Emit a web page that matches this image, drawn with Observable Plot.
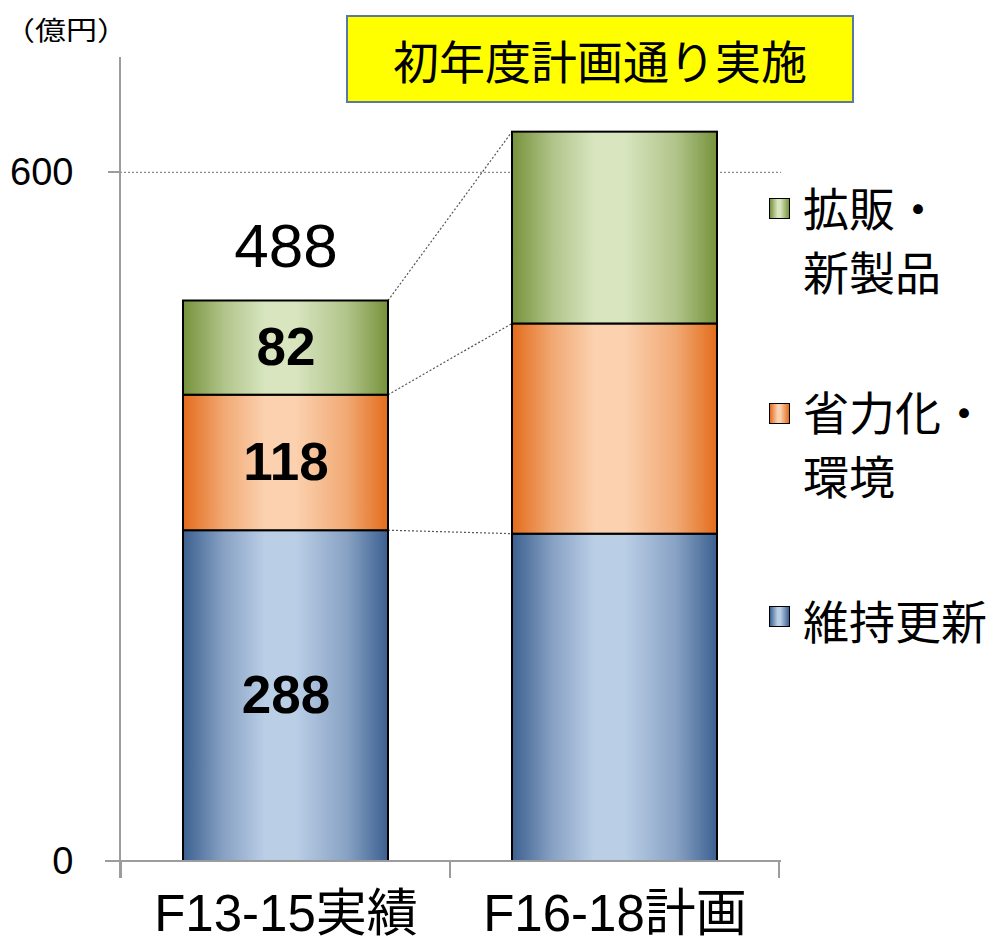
<!DOCTYPE html>
<html>
<head>
<meta charset="utf-8">
<script src="https://cdn.jsdelivr.net/npm/d3@7"></script>
<script src="https://cdn.jsdelivr.net/npm/@observablehq/plot@0.6"></script>
<style>
  body { margin: 0; background: #fff; }
  #wrap { position: relative; width: 994px; height: 952px; overflow: hidden; }
  #wrap svg { display: block; }
  #unit { position: absolute; left: 4px; top: 10px; font: 31px/38px "Noto Sans CJK JP", sans-serif; color: #000;
          transform: scaleY(0.85); transform-origin: 0 50%; }
  #title { position: absolute; left: 346px; top: 15px; width: 504px; height: 84px; background: #ffff00;
           border: 2px solid #5a78a4; display: flex; align-items: center; justify-content: center;
           font: 46px/1 "Noto Sans CJK JP", sans-serif; color: #000; }
  .sw { position: absolute; left: 769px; width: 19px; height: 19px; border: 1.6px solid #000; }
  .lt { position: absolute; left: 803px; font: 46px/64px "Noto Sans CJK JP", sans-serif; color: #000; white-space: pre; }
</style>
</head>
<body>
<div id="wrap">
  <div id="unit">（億円）</div>
  <div id="title"></div>
</div>
<script>
// ---- data ----
const periods = ["F13-15実績", "F16-18計画"];
const seriesNames = ["維持更新", "省力化・環境", "拡販・新製品"];
const maintenance = [288, 285];   // 維持更新
const efficiency  = [118, 183];   // 省力化・環境
const expansion   = [82, 167];    // 拡販・新製品
const yTicks = [0, 600];
const yMax = 700;
const titleText = "初年度計画通り実施";
const legendLabels = ["拡販・\n新製品", "省力化・\n環境", "維持更新"]; // top-to-bottom
const legendSeries = ["拡販・新製品", "省力化・環境", "維持更新"];
const legendTops = { swatch: [198, 403, 606], text: [174, 378, 587] };

// colours: [edge, centre]
const palette = {
  "維持更新": ["#3c6090", "#bacee6"],
  "省力化・環境": ["#e36c1c", "#fbd1af"],
  "拡販・新製品": ["#76923b", "#d8e5bf"]
};

const seriesValues = [maintenance, efficiency, expansion];
const data = [];
periods.forEach((p, pi) => seriesNames.forEach((s, si) => data.push({period: p, series: s, value: seriesValues[si][pi]})));
const totals = periods.map((p, pi) => ({period: p, total: d3.sum(seriesValues, v => v[pi])}));

const fontLatin = "'Liberation Sans', 'Noto Sans CJK JP', sans-serif";
const gradId = s => "grad" + seriesNames.indexOf(s);

// gradients (defs)
const gradients = () => {
  const g = d3.create("svg:g");
  const defs = g.append("defs");
  seriesNames.forEach((s, i) => {
    const [edge, mid] = palette[s];
    const lg = defs.append("linearGradient").attr("id", "grad" + i)
      .attr("x1", 0).attr("x2", 1).attr("y1", 0).attr("y2", 0);
    [[0, edge], [0.2, d3.interpolateRgb(edge, mid)(0.6)], [0.4, mid], [0.55, mid], [0.8, d3.interpolateRgb(edge, mid)(0.6)], [1, edge]]
      .forEach(([o, c]) => lg.append("stop").attr("offset", o).attr("stop-color", c));
  });
  return g.node();
};

const bw = x => typeof x.bandwidth === "function" ? x.bandwidth() : x.bandwidth;
const stepOf = x => typeof x.step === "function" ? x.step() : x.step;

// axis lines and ticks (Excel-style)
const axes = (index, {x, y}, values, dims) => {
  const {width, marginLeft, marginRight} = dims;
  const b = bw(x), st = stepOf(x), gap = (st - b) / 2;
  const y0 = y(0);
  const g = d3.create("svg:g").attr("stroke", "#9c9c9c").attr("stroke-width", 2).attr("shape-rendering", "crispEdges");
  g.append("line").attr("x1", marginLeft).attr("x2", marginLeft).attr("y1", y(yMax)).attr("y2", y0 + 17);
  g.append("line").attr("x1", marginLeft - 15).attr("x2", width - marginRight).attr("y1", y0).attr("y2", y0);
  yTicks.forEach(t => g.append("line").attr("x1", marginLeft - 12).attr("x2", marginLeft).attr("y1", y(t)).attr("y2", y(t)));
  const bounds = periods.map(p => x(p) - gap).concat([x(periods[periods.length - 1]) + b + gap]);
  bounds.forEach(bx => g.append("line").attr("x1", bx).attr("x2", bx).attr("y1", y0).attr("y2", y0 + 17));
  return g.node();
};

// dotted connectors between bars
const connectors = (index, {x, y}) => {
  const b = bw(x);
  const g = d3.create("svg:g").attr("fill", "none").attr("stroke", "#555").attr("stroke-width", 1.2).attr("stroke-dasharray", "2,2");
  for (let k = 0; k < seriesValues.length; ++k) {
    const c1 = d3.sum(seriesValues.slice(0, k + 1), v => v[0]);
    const c2 = d3.sum(seriesValues.slice(0, k + 1), v => v[1]);
    g.append("line").attr("x1", x(periods[0]) + b).attr("y1", y(c1)).attr("x2", x(periods[1])).attr("y2", y(c2));
  }
  return g.node();
};

const chart = Plot.plot({
  width: 994,
  height: 952,
  marginLeft: 120,
  marginRight: 213,
  marginTop: 57,
  marginBottom: 91,
  style: {fontFamily: fontLatin, background: "transparent", overflow: "visible"},
  x: {domain: periods, paddingInner: 0.376, paddingOuter: 0.19, axis: null},
  y: {domain: [0, yMax], axis: null},
  color: {type: "identity"},
  marks: [
    gradients,
    Plot.ruleY([600], {stroke: "#8a8a8a", strokeWidth: 1.3, strokeDasharray: "2,2"}),
    connectors,
    Plot.barY(data, {x: "period", y: "value", fill: d => `url(#${gradId(d.series)})`, stroke: "#000", strokeWidth: 2}),
    axes,
    Plot.text(data, Plot.stackY({x: "period", y: "value",
      text: d => d.period === periods[0] ? String(d.value) : null,
      fontSize: 53, fontWeight: "bold", fill: "#000", fontFamily: fontLatin})),
    Plot.text(totals.filter(d => d.period === periods[0]), {x: "period", y: "total", text: d => String(d.total),
      dy: -54, fontSize: 62, fill: "#000", fontFamily: fontLatin}),
    Plot.text(yTicks, {y: d => d, text: d => String(d), frameAnchor: "left", dx: -47, textAnchor: "end",
      fontSize: 38, fill: "#000", fontFamily: fontLatin}),
    Plot.text(periods, {x: d => d, text: d => d, frameAnchor: "bottom", dy: 69, fontSize: 51, fill: "#000", fontFamily: fontLatin})
  ]
});

const wrap = document.getElementById("wrap");
wrap.insertBefore(chart, wrap.firstChild);
document.getElementById("title").textContent = titleText;

legendSeries.forEach((s, i) => {
  const [edge, mid] = palette[s];
  const sw = document.createElement("div");
  sw.className = "sw";
  sw.style.top = legendTops.swatch[i] + "px";
  sw.style.background = `linear-gradient(to right, ${edge}, ${mid} 40%, ${mid} 55%, ${edge})`;
  wrap.appendChild(sw);
  const t = document.createElement("div");
  t.className = "lt";
  t.style.top = legendTops.text[i] + "px";
  t.textContent = legendLabels[i];
  wrap.appendChild(t);
});
</script>
</body>
</html>
